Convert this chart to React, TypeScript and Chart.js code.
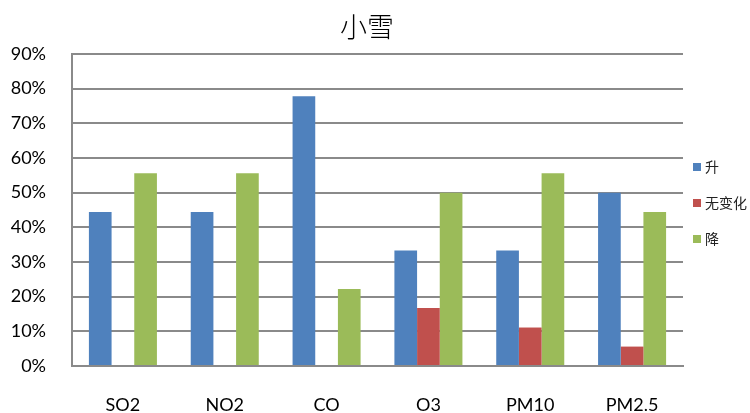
import React, { useEffect, useRef } from "react";
import { Chart, registerables } from "chart.js";

Chart.register(...registerables);

const categories = ["SO2", "NO2", "CO", "O3", "PM10", "PM2.5"];
const seriesNames = ["升", "无变化", "降"];
const riseValues = [0.444, 0.444, 0.778, 0.333, 0.333, 0.5];
const unchangedValues = [0, 0, 0, 0.167, 0.111, 0.056];
const fallValues = [0.556, 0.556, 0.222, 0.5, 0.556, 0.444];
const seriesColors = ["#4F81BD", "#C0504D", "#9BBB59"];
const chartTitle = "小雪";

const tickFont = "Lato, 'Open Sans', sans-serif";

// Title and vertical legend painted around the plot area
const decorations = {
  id: "decorations",
  afterDraw(chart: any) {
    const { ctx, chartArea } = chart;
    ctx.save();
    ctx.fillStyle = "#000";
    ctx.font = "300 27px 'Noto Sans CJK SC', serif";
    ctx.textAlign = "center";
    ctx.textBaseline = "middle";
    ctx.fillText(chartTitle, chart.width / 2 - 8, 27);

    const x0 = chartArea.right + 10;
    const startY = chartArea.top + 113;
    const gap = 36;
    ctx.font = "14px 'Noto Sans CJK SC', sans-serif";
    ctx.textAlign = "left";
    chart.data.datasets.forEach((ds: any, i: number) => {
      const y = startY + i * gap;
      ctx.fillStyle = ds.backgroundColor;
      ctx.fillRect(x0, y - 4, 8, 8);
      ctx.fillStyle = "#222";
      ctx.fillText(ds.label, x0 + 12, y);
    });
    ctx.restore();
  },
};

export default function App() {
  const canvasRef = useRef<HTMLCanvasElement | null>(null);

  useEffect(() => {
    if (!canvasRef.current) return;
    const chart = new Chart(canvasRef.current, {
      type: "bar",
      data: {
        labels: categories,
        datasets: [riseValues, unchangedValues, fallValues].map((vals, i) => ({
          label: seriesNames[i],
          data: vals,
          backgroundColor: seriesColors[i],
          borderWidth: 0,
          barPercentage: 1,
          categoryPercentage: 0.668,
        })),
      },
      options: {
        responsive: false,
        animation: false,
        layout: { padding: { left: 10, right: 67, top: 54, bottom: 0 } },
        plugins: {
          legend: { display: false },
          tooltip: { enabled: false },
          title: { display: false },
        },
        scales: {
          x: {
            afterFit: (scale: any) => {
              scale.height = 47;
            },
            grid: { display: false, drawTicks: false },
            border: { display: true, color: "#8a8a8a", width: 2 },
            ticks: { color: "#000", font: { family: tickFont, size: 18 }, padding: 28 },
          },
          y: {
            min: 0,
            max: 0.9,
            afterFit: (scale: any) => {
              scale.width = 62;
            },
            grid: { color: "#8a8a8a", lineWidth: 2, drawTicks: false },
            border: { display: true, color: "#8a8a8a", width: 2 },
            ticks: {
              stepSize: 0.1,
              color: "#000",
              padding: 26,
              font: { family: tickFont, size: 18 },
              callback: (v: any) => Math.round(Number(v) * 100) + "%",
            },
          },
        },
      },
      plugins: [decorations],
    });
    return () => chart.destroy();
  }, []);

  return (
    <div style={{ position: "fixed", left: 0, top: 0, width: 750, height: 413, background: "#fff" }}>
      <canvas ref={canvasRef} width={750} height={413} />
    </div>
  );
}
